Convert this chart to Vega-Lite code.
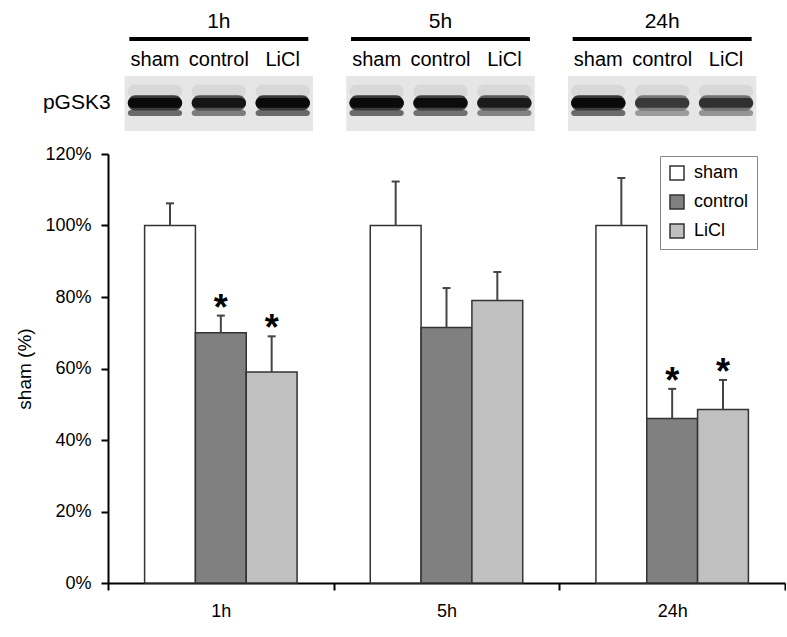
{
  "$schema": "https://vega.github.io/schema/vega-lite/v6.json",
  "background": "white",
  "padding": {"left": 15, "top": 0, "right": 0, "bottom": 0},
  "bounds": "flush",
  "spacing": 14,
  "config": {
    "font": "Liberation Sans",
    "view": {"stroke": null},
    "text": {"color": "black"}
  },
  "datasets": {
    "bars": [
      {"time": "1h", "group": "sham", "value": 100, "upper": 106.2, "sig": false},
      {"time": "1h", "group": "control", "value": 70, "upper": 74.8, "sig": true},
      {"time": "1h", "group": "LiCl", "value": 59, "upper": 69, "sig": true},
      {"time": "5h", "group": "sham", "value": 100, "upper": 112.3, "sig": false},
      {"time": "5h", "group": "control", "value": 71.5, "upper": 82.5, "sig": false},
      {"time": "5h", "group": "LiCl", "value": 79, "upper": 87, "sig": false},
      {"time": "24h", "group": "sham", "value": 100, "upper": 113.3, "sig": false},
      {"time": "24h", "group": "control", "value": 46, "upper": 54.3, "sig": true},
      {"time": "24h", "group": "LiCl", "value": 48.5, "upper": 56.8, "sig": true}
    ],
    "lanes": [
      {"time": "1h", "lane": "sham", "intensity": 1.0},
      {"time": "1h", "lane": "control", "intensity": 0.85},
      {"time": "1h", "lane": "LiCl", "intensity": 1.0},
      {"time": "5h", "lane": "sham", "intensity": 1.0},
      {"time": "5h", "lane": "control", "intensity": 0.95},
      {"time": "5h", "lane": "LiCl", "intensity": 0.8},
      {"time": "24h", "lane": "sham", "intensity": 1.0},
      {"time": "24h", "lane": "control", "intensity": 0.6},
      {"time": "24h", "lane": "LiCl", "intensity": 0.65}
    ],
    "times": [
      {"time": "1h", "label": "pGSK3"},
      {"time": "5h", "label": ""},
      {"time": "24h", "label": ""}
    ]
  },
  "resolve": {
    "scale": {"x": "independent", "y": "independent", "xOffset": "independent", "color": "independent", "opacity": "independent"},
    "legend": {"color": "independent", "opacity": "independent"}
  },
  "vconcat": [
    {
      "width": 665,
      "height": 140,
      "layer": [
        {
          "data": {"name": "times"},
          "mark": {"type": "bar", "color": "#e6e6e6"},
          "encoding": {
            "x": {"field": "time", "type": "nominal", "scale": {"domain": ["1h", "5h", "24h"], "paddingInner": 0.15, "paddingOuter": 0.075}, "axis": null},
            "y": {"datum": 0.64, "type": "quantitative", "scale": {"domain": [0, 10]}, "axis": null},
            "y2": {"datum": 4.57}
          }
        },
        {
          "data": {"name": "times"},
          "mark": {"type": "bar", "color": "black", "width": {"band": 0.95}},
          "encoding": {
            "x": {"field": "time", "type": "nominal", "scale": {"domain": ["1h", "5h", "24h"]}, "axis": null},
            "y": {"datum": 7.07, "type": "quantitative"},
            "y2": {"datum": 7.36}
          }
        },
        {
          "data": {"name": "times"},
          "mark": {"type": "text", "fontSize": 21, "baseline": "middle"},
          "encoding": {
            "x": {"field": "time", "type": "nominal", "scale": {"domain": ["1h", "5h", "24h"]}, "axis": null},
            "y": {"datum": 8.43, "type": "quantitative"},
            "text": {"field": "time"}
          }
        },
        {
          "data": {"name": "times"},
          "mark": {"type": "text", "fontSize": 21, "baseline": "middle", "align": "right", "dx": -14},
          "encoding": {
            "x": {"field": "time", "type": "nominal", "bandPosition": 0, "scale": {"domain": ["1h", "5h", "24h"]}, "axis": null},
            "y": {"datum": 2.64, "type": "quantitative"},
            "text": {"field": "label"}
          }
        },
        {
          "data": {"name": "lanes"},
          "mark": {"type": "text", "fontSize": 20, "baseline": "middle"},
          "encoding": {
            "x": {"field": "time", "type": "nominal", "scale": {"domain": ["1h", "5h", "24h"]}, "axis": null},
            "xOffset": {"field": "lane", "type": "nominal", "scale": {"domain": ["sham", "control", "LiCl"], "paddingInner": 0.15, "paddingOuter": 0.05}},
            "y": {"datum": 5.71, "type": "quantitative"},
            "text": {"field": "lane"}
          }
        },
        {
          "data": {"name": "lanes"},
          "mark": {"type": "bar", "color": "#cfcfcf", "cornerRadius": 8, "opacity": 0.6},
          "encoding": {
            "x": {"field": "time", "type": "nominal", "scale": {"domain": ["1h", "5h", "24h"]}, "axis": null},
            "xOffset": {"field": "lane", "type": "nominal", "scale": {"domain": ["sham", "control", "LiCl"]}},
            "y": {"datum": 3.0, "type": "quantitative"},
            "y2": {"datum": 3.95}
          }
        },
        {
          "data": {"name": "lanes"},
          "mark": {"type": "bar", "color": "#6a6a6a", "cornerRadius": 4},
          "encoding": {
            "x": {"field": "time", "type": "nominal", "scale": {"domain": ["1h", "5h", "24h"]}, "axis": null},
            "xOffset": {"field": "lane", "type": "nominal", "scale": {"domain": ["sham", "control", "LiCl"]}},
            "y": {"datum": 1.71, "type": "quantitative"},
            "y2": {"datum": 2.14},
            "opacity": {"field": "intensity", "type": "quantitative", "scale": {"domain": [0, 1], "range": [0, 1]}, "legend": null}
          }
        },
        {
          "data": {"name": "lanes"},
          "mark": {"type": "bar", "color": "#3a3a3a", "cornerRadius": 8},
          "encoding": {
            "x": {"field": "time", "type": "nominal", "scale": {"domain": ["1h", "5h", "24h"]}, "axis": null},
            "xOffset": {"field": "lane", "type": "nominal", "scale": {"domain": ["sham", "control", "LiCl"]}},
            "y": {"datum": 2.1, "type": "quantitative"},
            "y2": {"datum": 3.2},
            "opacity": {"field": "intensity", "type": "quantitative", "legend": null}
          }
        },
        {
          "data": {"name": "lanes"},
          "mark": {"type": "bar", "color": "#0a0a0a", "cornerRadius": 6},
          "encoding": {
            "x": {"field": "time", "type": "nominal", "scale": {"domain": ["1h", "5h", "24h"]}, "axis": null},
            "xOffset": {"field": "lane", "type": "nominal", "scale": {"domain": ["sham", "control", "LiCl"]}},
            "y": {"datum": 2.3, "type": "quantitative"},
            "y2": {"datum": 3.0},
            "opacity": {"field": "intensity", "type": "quantitative", "legend": null}
          }
        }
      ]
    },
    {
      "width": 677,
      "height": 429,
      "data": {"name": "bars"},
      "encoding": {
        "x": {
          "field": "time", "type": "nominal",
          "scale": {"domain": ["1h", "5h", "24h"], "paddingInner": 0, "paddingOuter": 0},
          "axis": {"title": null, "labelAngle": 0, "tickBand": "extent", "domainColor": "black", "domainWidth": 2, "tickColor": "black", "tickWidth": 2, "tickSize": 7, "labelFontSize": 18, "labelPadding": 12, "labelColor": "black", "labelFont": "Liberation Sans"}
        },
        "xOffset": {"field": "group", "type": "nominal", "scale": {"domain": ["sham", "control", "LiCl"], "paddingInner": 0, "paddingOuter": 0.72}}
      },
      "layer": [
        {
          "mark": {"type": "bar", "stroke": "#333333", "strokeWidth": 1.5},
          "encoding": {
            "y": {
              "field": "value", "type": "quantitative",
              "scale": {"domain": [0, 120], "nice": false},
              "axis": {"values": [0, 20, 40, 60, 80, 100, 120], "labelExpr": "datum.value + '%'", "title": "sham (%)", "titleFontSize": 19, "titleFontWeight": "normal", "titleColor": "black", "titlePadding": 10, "titleFont": "Liberation Sans", "grid": false, "domainColor": "black", "domainWidth": 2, "tickColor": "black", "tickWidth": 2, "tickSize": 7, "labelFontSize": 18, "labelPadding": 10, "labelColor": "black", "labelFont": "Liberation Sans"}
            },
            "color": {
              "field": "group", "type": "nominal",
              "scale": {"domain": ["sham", "control", "LiCl"], "range": ["#ffffff", "#808080", "#c0c0c0"]},
              "legend": {"title": null, "orient": "none", "legendX": 552, "legendY": 2, "direction": "vertical", "symbolType": "square", "symbolSize": 196, "symbolStrokeColor": "#333333", "symbolStrokeWidth": 1.5, "symbolOpacity": 1, "labelFontSize": 18, "labelFont": "Liberation Sans", "labelColor": "black", "labelOffset": 8, "rowPadding": 9, "padding": 8, "strokeColor": "#888888", "fillColor": "white"}
            }
          }
        },
        {
          "mark": {"type": "rule", "color": "#444444", "strokeWidth": 2},
          "encoding": {
            "y": {"field": "value", "type": "quantitative"},
            "y2": {"field": "upper"}
          }
        },
        {
          "mark": {"type": "tick", "orient": "horizontal", "size": 8, "thickness": 2, "color": "#444444", "opacity": 1},
          "encoding": {
            "y": {"field": "upper", "type": "quantitative"}
          }
        },
        {
          "transform": [{"filter": "datum.sig"}],
          "mark": {"type": "text", "fontSize": 36, "fontWeight": "bold", "baseline": "alphabetic", "dy": 4, "color": "black"},
          "encoding": {
            "y": {"field": "upper", "type": "quantitative"},
            "text": {"value": "*"}
          }
        }
      ]
    }
  ]
}
